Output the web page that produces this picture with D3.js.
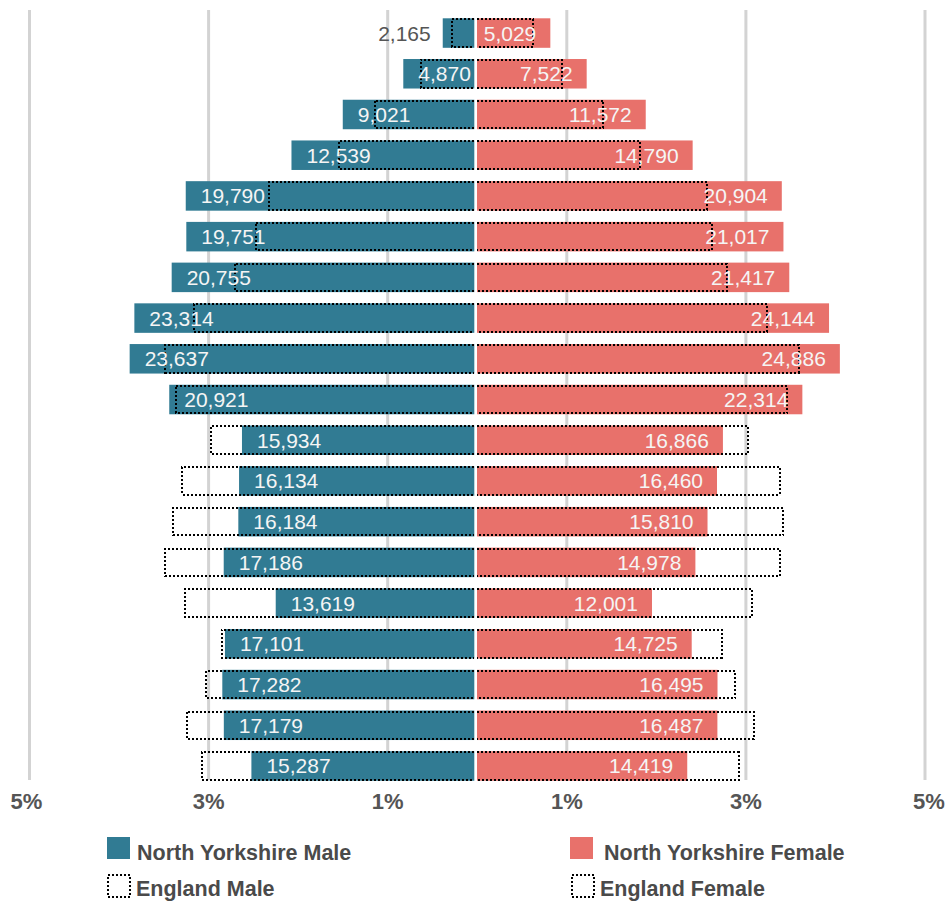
<!DOCTYPE html>
<html>
<head>
<meta charset="utf-8">
<script src="https://cdn.jsdelivr.net/npm/d3@7"></script>
<style>
  body { margin: 0; background: #fff; }
  svg { display: block; font-family: "Liberation Sans", Arial, sans-serif; }
</style>
</head>
<body>
<div id="chart"></div>
<script>
const ages = ['90+', '85-89', '80-84', '75-79', '70-74', '65-69', '60-64', '55-59', '50-54',
  '45-49', '40-44', '35-39', '30-34', '25-29', '20-24', '15-19', '10-14', '5-9', '0-4'];

// North Yorkshire population counts
const nyMale = [2165, 4870, 9021, 12539, 19790, 19751, 20755, 23314, 23637, 20921,
  15934, 16134, 16184, 17186, 13619, 17101, 17282, 17179, 15287];
const nyFemale = [5029, 7522, 11572, 14790, 20904, 21017, 21417, 24144, 24886, 22314,
  16866, 16460, 15810, 14978, 12001, 14725, 16495, 16487, 14419];

// England, % of total population
const engMale = [0.25, 0.60, 1.11, 1.51, 2.29, 2.44, 2.67, 3.13, 3.45, 3.33,
  2.94, 3.26, 3.36, 3.45, 3.23, 2.82, 2.99, 3.21, 3.04];
const engFemale = [0.63, 0.95, 1.41, 1.82, 2.57, 2.62, 2.79, 3.24, 3.59, 3.46,
  3.03, 3.38, 3.42, 3.38, 3.07, 2.73, 2.88, 3.09, 2.92];

const tickVals = [-5, -3, -1, 1, 3, 5];

const W = 948, H = 903;
const maleColor = '#317b93', femaleColor = '#e8716b';
const total = d3.sum(nyMale) + d3.sum(nyFemale);

const svg = d3.select('#chart').append('svg').attr('width', W).attr('height', H);

const y = d3.scaleBand().domain(ages).range([18.3, 780.75]).paddingInner(0.2755).paddingOuter(0);
// gridline axis (symmetric)
const xAxis = d3.scaleLinear().domain([-5, 5]).range([29.5, 925]);
// bar scales, one per side
const xM = d3.scaleLinear().domain([0, 5]).range([474.3, 474.3 - 448]);
const xF = d3.scaleLinear().domain([0, 5]).range([477, 477 + 448]);

// Gridlines
svg.append('g').selectAll('line').data(tickVals).join('line')
  .attr('x1', d => xAxis(d)).attr('x2', d => xAxis(d))
  .attr('y1', 10).attr('y2', 780)
  .attr('stroke', '#d3d3d3').attr('stroke-width', 3);

// Tick labels
svg.append('g').selectAll('text').data(tickVals).join('text')
  .attr('x', d => xAxis(d) + (d === 5 ? 4 : d === -5 ? -3 : 0))
  .attr('y', 809)
  .attr('text-anchor', 'middle')
  .attr('font-size', 22).attr('font-weight', 'bold').attr('fill', '#555')
  .text(d => Math.abs(d) + '%');

const rows = ages.map((a, i) => ({
  age: a,
  m: nyMale[i], f: nyFemale[i],
  mp: nyMale[i] / total * 100, fp: nyFemale[i] / total * 100,
  em: engMale[i], ef: engFemale[i]
}));

const bh = y.bandwidth();

// Bars
svg.append('g').selectAll('rect').data(rows).join('rect')
  .attr('x', d => xM(d.mp)).attr('y', d => y(d.age))
  .attr('width', d => xM(0) - xM(d.mp)).attr('height', bh)
  .attr('fill', maleColor);

svg.append('g').selectAll('rect').data(rows).join('rect')
  .attr('x', xF(0)).attr('y', d => y(d.age))
  .attr('width', d => xF(d.fp) - xF(0)).attr('height', bh)
  .attr('fill', femaleColor);

// England outlines (dotted, open at the centre)
const dotted = sel => sel.attr('fill', 'none').attr('stroke', '#000')
  .attr('stroke-width', 2).attr('stroke-dasharray', '2,2')
  .attr('shape-rendering', 'crispEdges');

svg.append('g').selectAll('path').data(rows).join('path')
  .attr('d', d => {
    const x0 = xM(0), x1 = xM(d.em), t = y(d.age) + 1, b = y(d.age) + bh - 1;
    return `M${x0},${t}H${x1}V${b}H${x0}`;
  })
  .call(dotted);

svg.append('g').selectAll('path').data(rows).join('path')
  .attr('d', d => {
    const x0 = xF(0), x1 = xF(d.ef), t = y(d.age) + 1, b = y(d.age) + bh - 1;
    return `M${x0},${t}H${x1}V${b}H${x0}`;
  })
  .call(dotted);

// Value labels
const fmt = d3.format(',');
svg.append('g').selectAll('text').data(rows).join('text')
  .attr('x', d => {
    const w = xM(0) - xM(d.mp);
    return w < 60 ? xM(d.mp) - 12 : xM(d.mp) + 15;
  })
  .attr('y', d => y(d.age) + bh / 2 + 7.5)
  .attr('text-anchor', d => (xM(0) - xM(d.mp)) < 60 ? 'end' : 'start')
  .attr('font-size', 21)
  .attr('fill', d => (xM(0) - xM(d.mp)) < 60 ? '#555' : '#f5f5f5')
  .text(d => fmt(d.m));

svg.append('g').selectAll('text').data(rows).join('text')
  .attr('x', d => xF(d.fp) - 14)
  .attr('y', d => y(d.age) + bh / 2 + 7.5)
  .attr('text-anchor', 'end')
  .attr('font-size', 21)
  .attr('fill', '#f5f5f5')
  .text(d => fmt(d.f));

// Legend
const legend = [
  { label: 'North Yorkshire Male', x: 107, y: 837, fill: maleColor },
  { label: 'North Yorkshire Female', x: 570, y: 837, fill: femaleColor },
  { label: 'England Male', x: 107, y: 874, fill: null },
  { label: 'England Female', x: 571, y: 874, fill: null }
];
const lg = svg.append('g').selectAll('g').data(legend).join('g')
  .attr('transform', d => `translate(${d.x},${d.y})`);
lg.filter(d => d.fill).append('rect')
  .attr('width', 23).attr('height', 22).attr('fill', d => d.fill);
lg.filter(d => !d.fill).append('rect')
  .attr('x', 1).attr('y', 1).attr('width', 22).attr('height', 22)
  .call(dotted);
lg.append('text')
  .attr('x', d => d.fill ? (d.x > 300 ? 34 : 30) : 29)
  .attr('y', d => d.fill ? 23 : 22)
  .attr('font-size', 21.5).attr('font-weight', 'bold').attr('fill', '#4a4a4a')
  .text(d => d.label);
</script>
</body>
</html>
